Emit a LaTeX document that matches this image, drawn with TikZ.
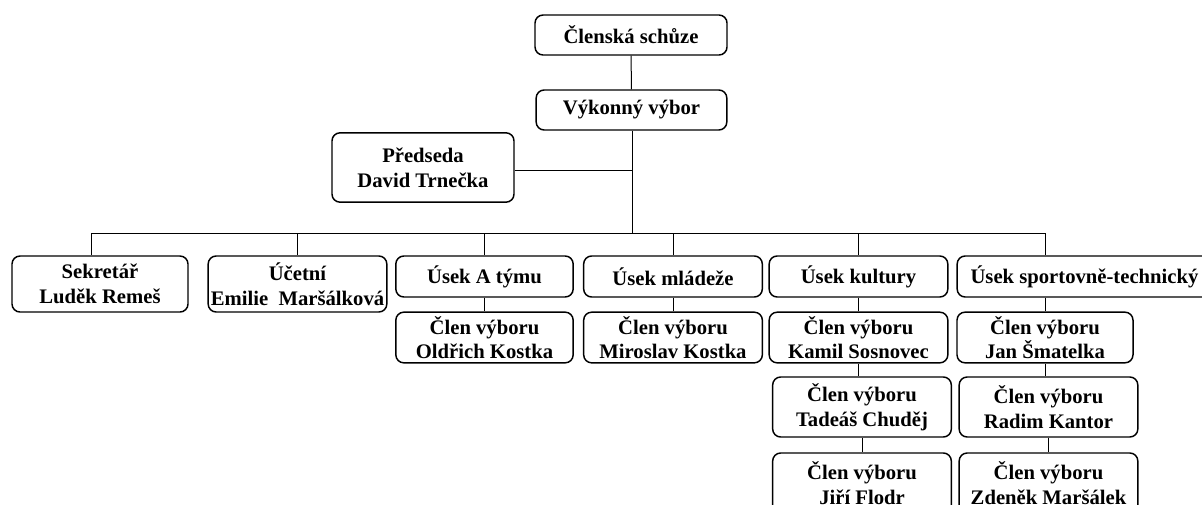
\documentclass[tikz,border=0pt]{standalone}
\usepackage{fontspec}
\setmainfont{Liberation Serif}
\usetikzlibrary{positioning}

\begin{document}
\begin{tikzpicture}
            [x=0.75pt,y=-0.75pt,
             box node/.style={draw,rounded corners=6pt,line width=1.1pt,align=center,inner xsep=1pt,inner ysep=0pt,
               font=\bfseries\fontsize{15.5}{18.5}\selectfont,minimum width=134pt},
             head node/.style={box node,minimum height=30.75pt},
             pair node/.style={box node,minimum height=42pt},
             member node/.style={box node,minimum height=38pt},
             low node/.style={box node,minimum height=45pt},
             link/.style={line width=0.75pt}]
            \useasboundingbox (0,0) rectangle (1202,504);
            \node[box node,minimum width=144pt,minimum height=30pt] (schuze) at (631,35) {Členská schůze};
            \node[box node,minimum width=143pt,minimum height=30pt] (vybor) at (631.5,110) {Výkonný výbor};
            \node[box node,minimum width=136.5pt,minimum height=52pt] (predseda) at (423,167.5) {Předseda\\David Trnečka};
            \node[pair node,minimum width=132pt] (sekretar) at (100,284) {Sekretář\\Luděk Remeš};
            \node[pair node] (ucetni) at (297.5,284) {Účetní\\Emilie~~Maršálková};
            \node[head node,minimum width=133pt] (useka) at (484.5,276.5) {Úsek A týmu};
            \node[member node,minimum width=133pt] (clena) at (484.5,337.5) {Člen výboru\\Oldřich Kostka};
            \node[head node] (usekm) at (673,276.5) {Úsek mládeže};
            \node[member node] (clenm) at (673,337.5) {Člen výboru\\Miroslav Kostka};
            \node[head node] (usekk) at (858.5,276.5) {Úsek kultury};
            \node[member node] (clenk1) at (858.5,337.5) {Člen výboru\\Kamil Sosnovec};
            \node[low node] (clenk2) at (862,407) {Člen výboru\\Tadeáš Chuděj};
            \node[low node] (clenk3) at (862,483) {Člen výboru\\Jiří Flodr};
            \node[head node,minimum width=191pt] (useks) at (1084.5,276.5) {Úsek sportovně-technický};
            \node[member node,minimum width=132pt] (clens1) at (1045,337.5) {Člen výboru\\Jan Šmatelka};
            \node[low node] (clens2) at (1048.5,407) {Člen výboru\\Radim Kantor};
            \node[low node] (clens3) at (1048.5,483) {Člen výboru\\Zdeněk Maršálek};
            \coordinate (bus) at (632,233);
            \draw[link] (schuze) -- (vybor);
            \draw[link] (vybor.south -| bus) -- (bus);
            \draw[link] ([yshift=-1.9pt]predseda.east) -- ([yshift=-1.9pt]predseda.east -| bus);
            \draw[link] (bus) -| ([xshift=-6.75pt]sekretar.north);
            \draw[link] (bus) -| (ucetni.north);
            \draw[link] (bus) -| (useka.north);
            \draw[link] (bus) -| (usekm.north);
            \draw[link] (bus) -| (usekk.north);
            \draw[link] (bus) -| (useks.north -| clens1);
            \draw[link] (useka) -- (clena);
            \draw[link] (usekm) -- (clenm);
            \draw[link] (usekk) -- (clenk1);
            \draw[link] (clenk1) -- (clenk1 |- clenk2.north);
            \draw[link] (clenk2) -- (clenk3);
            \draw[link] (useks.south -| clens1) -- (clens1);
            \draw[link] (clens1) -- (clens1 |- clens2.north);
            \draw[link] (clens2) -- (clens3);
\end{tikzpicture}
\end{document}
